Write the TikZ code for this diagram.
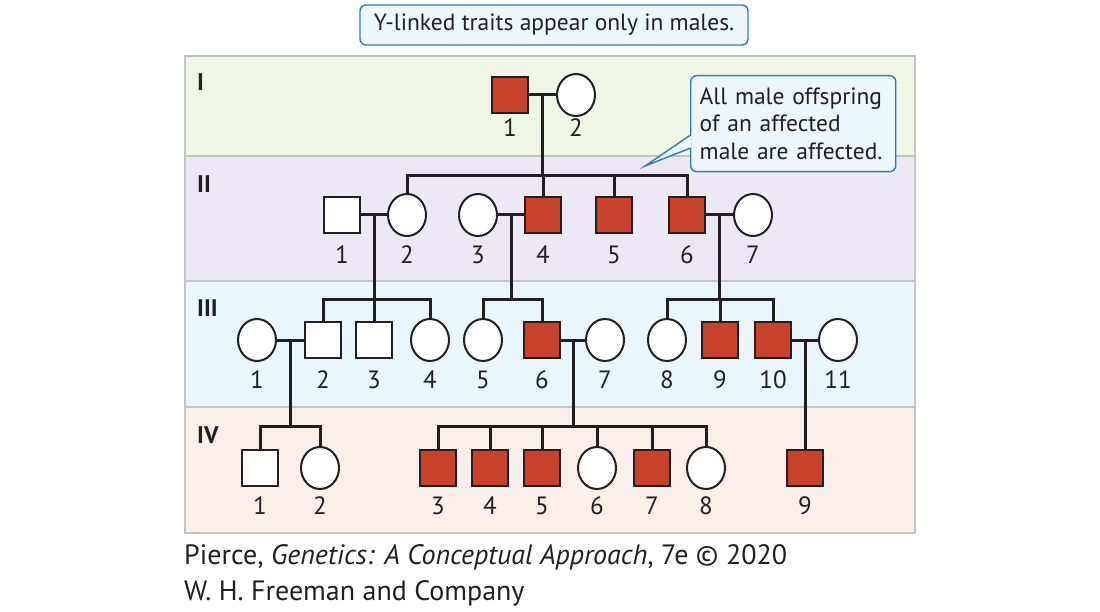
\documentclass[tikz,border=0pt]{standalone}
\usepackage{fontspec}
\setmainfont{PT Sans}
\usetikzlibrary{shapes.geometric,calc}

\definecolor{affred}{HTML}{C8412B}
\definecolor{pedline}{HTML}{231F20}
\definecolor{rowI}{HTML}{EFF6E8}
\definecolor{rowII}{HTML}{ECE9F4}
\definecolor{rowIII}{HTML}{EBF5FC}
\definecolor{rowIV}{HTML}{F9EFEB}
\definecolor{rowline}{HTML}{C4C4C4}
\definecolor{noteblue}{HTML}{2B7BBF}
\definecolor{notefill}{HTML}{EEF7FD}

\tikzset{
  male/.style={draw=pedline, line width=2pt, fill=white, rectangle, minimum size=36pt, inner sep=0pt},
  female/.style={draw=pedline, line width=2pt, fill=white, ellipse, minimum width=38pt, minimum height=42pt, inner sep=0pt},
  affm/.style={male, fill=affred},
  num/.style={font=\fontsize{25}{28}\selectfont, text=pedline, inner sep=0pt},
  gen/.style={font=\fontsize{24}{27}\selectfont\bfseries, text=pedline, anchor=west, inner sep=0pt},
  ped/.style={draw=pedline, line width=3pt},
  note/.style={draw=noteblue, line width=1.4pt, fill=notefill, rounded corners=6pt,
    font=\fontsize{23.5}{27.5}\selectfont, text=pedline},
  credit/.style={font=\fontsize{28}{32}\selectfont, text=pedline, anchor=west, inner sep=0pt},
}

\begin{document}
\begin{tikzpicture}[x=1pt, y=-1pt]
  \useasboundingbox (0,0) rectangle (1100,612);

  % generation bands
  \fill[rowI] (185,56) rectangle (915,156);
  \fill[rowII] (185,156) rectangle (915,281);
  \fill[rowIII] (185,281) rectangle (915,407);
  \fill[rowIV] (185,407) rectangle (915,533);
  \draw[rowline, line width=2pt] (185,56) rectangle (915,533);
  \draw[rowline, line width=2pt] (185,156) -- (915,156);
  \draw[rowline, line width=2pt] (185,281) -- (915,281);
  \draw[rowline, line width=2pt] (185,407) -- (915,407);

  \node[gen] (gI) at (197,82) {I};
  \node[gen] (gII) at (197,184) {II};
  \node[gen] (gIII) at (197,308) {III};
  \node[gen] (gIV) at (197,435) {IV};

  % notes
  \node[note, minimum width=388pt, minimum height=40pt] (ylinked) at (554,25)
    {Y-linked traits appear only in males.};
  \node[note, anchor=north west, align=left, text width=187pt, inner xsep=9pt,
    minimum height=96pt] (allmale) at (690,75)
    {All male offspring\\of an affected\\male are affected.};
  \coordinate (tip) at (645,166);
  \fill[notefill] ($(allmale.north west)+(1.5,60)$) -- (tip) -- ($(allmale.north west)+(1.5,73)$) -- cycle;
  \draw[noteblue, line width=1.4pt] ($(allmale.north west)+(0.6,60)$) -- (tip) -- ($(allmale.north west)+(0.6,73)$);

  % individuals
  \foreach \n/\x/\s in {1/510/affm, 2/576/female} {
    \node[\s] (I\n) at (\x,95) {};
    \node[num] (nI\n) at (\x,128) {\n};
  }
  \foreach \n/\x/\s in {1/342/male, 2/407/female, 3/478/female, 4/543/affm,
                        5/614/affm, 6/687/affm, 7/753/female} {
    \node[\s] (II\n) at (\x,215) {};
    \node[num] (nII\n) at (\x,255) {\n};
  }
  \foreach \n/\x/\s in {1/257/female, 2/323/male, 3/374/male, 4/430/female,
                        5/483/female, 6/542/affm, 7/605/female, 8/667/female,
                        9/720/affm, 10/773/affm, 11/838/female} {
    \node[\s] (III\n) at (\x,340) {};
    \node[num] (nIII\n) at (\x,380) {\n};
  }
  \foreach \n/\x/\s in {1/260/male, 2/320/female, 3/438/affm, 4/490/affm,
                        5/542/affm, 6/597/female, 7/652/affm, 8/706/female,
                        9/805/affm} {
    \node[\s] (IV\n) at (\x,468) {};
    \node[num] (nIV\n) at (\x,506) {\n};
  }

  % sibship heights
  \coordinate (yII) at (0,176);
  \coordinate (yIII) at (0,300);
  \coordinate (yIV) at (0,426);

  % generation I
  \draw[ped] (I1) -- (I2);
  \coordinate (mI) at ($(I1.east)!.5!(I2.west)$);
  \draw[ped] (mI) -- (mI |- yII);
  \draw[ped] (II2.north) -- (II2.north |- yII) -- (II6.north |- yII) -- (II6.north);
  \foreach \c in {II4,II5} \draw[ped] (\c.north) -- (\c.north |- yII);

  % generation II
  \draw[ped] (II1) -- (II2);
  \draw[ped] (II3) -- (II4);
  \draw[ped] (II6) -- (II7);
  \coordinate (mA) at ($(II1.east)!.5!(II2.west)$);
  \coordinate (mB) at ($(II3.east)!.5!(II4.west)$);
  \coordinate (mC) at ($(II6.east)!.5!(II7.west)$);
  \draw[ped] (mA) -- (mA |- yIII);
  \draw[ped] (III2.north) -- (III2.north |- yIII) -- (III4.north |- yIII) -- (III4.north);
  \draw[ped] (III3.north) -- (III3.north |- yIII);
  \draw[ped] (mB) -- (mB |- yIII);
  \draw[ped] (III5.north) -- (III5.north |- yIII) -- (III6.north |- yIII) -- (III6.north);
  \draw[ped] (mC) -- (mC |- yIII);
  \draw[ped] (III8.north) -- (III8.north |- yIII) -- (III10.north |- yIII) -- (III10.north);
  \draw[ped] (III9.north) -- (III9.north |- yIII);

  % generation III
  \draw[ped] (III1) -- (III2);
  \draw[ped] (III6) -- (III7);
  \draw[ped] (III10) -- (III11);
  \coordinate (mD) at ($(III1.east)!.5!(III2.west)$);
  \coordinate (mE) at ($(III6.east)!.5!(III7.west)$);
  \coordinate (mF) at ($(III10.east)!.5!(III11.west)$);
  \draw[ped] (mD) -- (mD |- yIV);
  \draw[ped] (IV1.north) -- (IV1.north |- yIV) -- (IV2.north |- yIV) -- (IV2.north);
  \draw[ped] (mE) -- (mE |- yIV);
  \draw[ped] (IV3.north) -- (IV3.north |- yIV) -- (IV8.north |- yIV) -- (IV8.north);
  \foreach \c in {IV4,IV5,IV6,IV7} \draw[ped] (\c.north) -- (\c.north |- yIV);
  \draw[ped] (mF) -- (IV9.north);

  % source
  \node[credit] (cite) at (184,557) {Pierce, \textit{Genetics: A Conceptual Approach}, 7e © 2020};
  \node[credit] (publisher) at (184,593) {W. H. Freeman and Company};
\end{tikzpicture}
\end{document}
